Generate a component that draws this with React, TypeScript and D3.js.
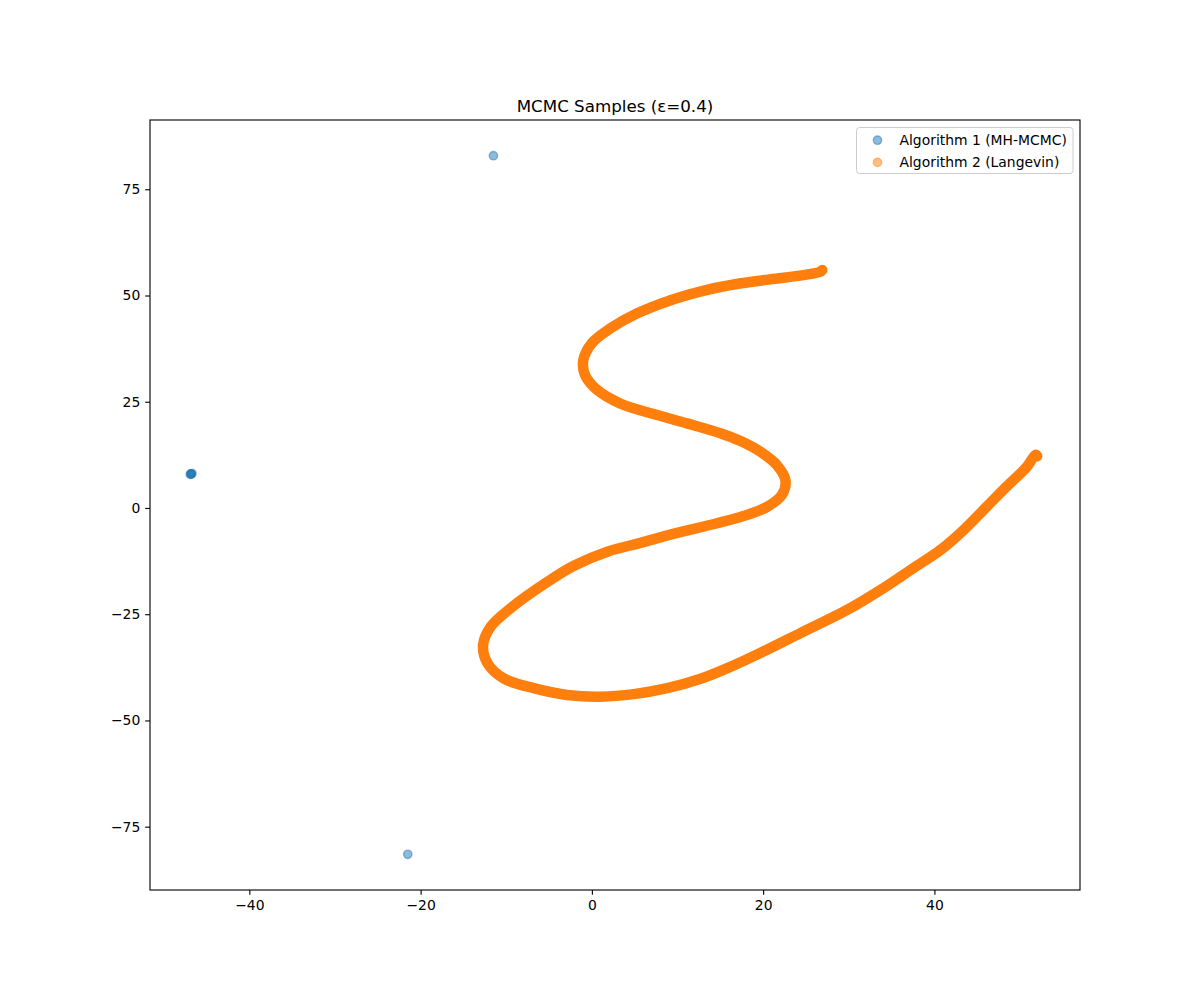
import { useRef, useEffect } from 'react';
import * as d3 from 'd3';

const title = 'MCMC Samples (ε=0.4)';
const seriesNames = ['Algorithm 1 (MH-MCMC)', 'Algorithm 2 (Langevin)'];
const seriesColors = ['#1f77b4', '#ff7f0e'];

const xTicks = [-40, -20, 0, 20, 40];
const yTicks = [-75, -50, -25, 0, 25, 50, 75];
const xDomain = [-51.6, 57.0];
const yDomain = [-89.9, 91.3];

// Algorithm 1: stuck cluster on the left plus two outliers
const mhX = [-46.8, -46.7, -46.9, -46.8, -11.5, -21.5];
const mhY = [8.0, 8.1, 7.9, 8.05, 82.9, -81.5];

// Algorithm 2: S-shaped trail
const lgX = [
  26.9, 26.7, 24.7, 20.8, 16.9, 13.0, 9.2, 5.3, 2.2, 0.0, -1.0, -0.8, 0.6, 3.3,
  7.2, 11.1, 15.0, 17.3, 19.7, 21.6, 22.6, 22.2, 20.4, 17.7, 14.6, 9.5, 5.7, 1.8,
  -2.1, -5.2, -9.5, -11.8, -12.7, -12.2, -10.3, -6.8, -2.9, 1.0, 4.9, 8.8, 12.7,
  16.5, 20.4, 24.3, 29.8, 33.7, 37.5, 40.7, 43.4, 46.1, 48.4, 50.8, 51.8, 52.0,
];
const lgY = [
  56.0, 55.6, 54.8, 53.8, 52.7, 51.1, 48.9, 45.8, 42.3, 38.8, 34.8, 31.3, 27.8,
  24.6, 22.1, 19.9, 17.6, 15.8, 13.2, 10.1, 6.6, 3.1, 0.2, -1.9, -3.6, -6.1, -8.2,
  -10.3, -13.6, -17.4, -23.6, -27.9, -32.2, -36.5, -40.1, -42.4, -44.0, -44.4,
  -43.8, -42.4, -40.2, -37.1, -33.4, -29.5, -24.0, -19.3, -14.2, -9.9, -5.2, 0.3,
  5.0, 9.7, 12.5, 12.2,
];

const W = 1200;
const H = 1000;
const margin = { top: 120, right: 120, bottom: 110, left: 150 };
const FONT = '"DejaVu Sans", sans-serif';

export default function App() {
  const svgRef = useRef<SVGSVGElement>(null);

  useEffect(() => {
    if (!svgRef.current) return;
    const svg = d3.select(svgRef.current);
    svg.selectAll('*').remove();

    const innerW = W - margin.left - margin.right;
    const innerH = H - margin.top - margin.bottom;

    const x = d3.scaleLinear().domain(xDomain).range([margin.left, margin.left + innerW]);
    const y = d3.scaleLinear().domain(yDomain).range([margin.top + innerH, margin.top]);

    svg.append('rect').attr('width', W).attr('height', H).attr('fill', '#fff');

    const plot = svg.append('g');

    // Algorithm 1 points
    const mh = mhX.map((v, i) => ({ x: v, y: mhY[i] }));
    plot.selectAll('.mh')
      .data(mh)
      .enter()
      .append('circle')
      .attr('class', 'mh')
      .attr('cx', (d) => x(d.x))
      .attr('cy', (d) => y(d.y))
      .attr('r', 4.17)
      .attr('fill', seriesColors[0])
      .attr('fill-opacity', 0.5)
      .attr('stroke', seriesColors[0])
      .attr('stroke-opacity', 0.5)
      .attr('stroke-width', 1.39);

    // Algorithm 2 trail: dense overlapping markers look like a solid band
    const lg = lgX.map((v, i) => ({ x: v, y: lgY[i] }));
    const line = d3.line<{ x: number; y: number }>()
      .x((d) => x(d.x))
      .y((d) => y(d.y))
      .curve(d3.curveCatmullRom.alpha(0.5));
    plot.append('path')
      .datum(lg)
      .attr('d', line)
      .attr('fill', 'none')
      .attr('stroke', seriesColors[1])
      .attr('stroke-width', 10.5)
      .attr('stroke-linecap', 'round')
      .attr('stroke-linejoin', 'round');
    plot.selectAll('.lg')
      .data(lg)
      .enter()
      .append('circle')
      .attr('class', 'lg')
      .attr('cx', (d) => x(d.x))
      .attr('cy', (d) => y(d.y))
      .attr('r', 4.17)
      .attr('fill', seriesColors[1])
      .attr('fill-opacity', 0.5)
      .attr('stroke', seriesColors[1])
      .attr('stroke-opacity', 0.5)
      .attr('stroke-width', 1.39);

    // Axes
    const xAxis = svg.append('g')
      .attr('transform', `translate(0,${margin.top + innerH})`)
      .call(d3.axisBottom(x).tickValues(xTicks).tickSize(4.86).tickPadding(4.86).tickFormat(d3.format('d')));
    const yAxis = svg.append('g')
      .attr('transform', `translate(${margin.left},0)`)
      .call(d3.axisLeft(y).tickValues(yTicks).tickSize(4.86).tickPadding(4.86).tickFormat(d3.format('d')));
    [xAxis, yAxis].forEach((ax) => {
      ax.select('.domain').remove();
      ax.selectAll('line').attr('stroke', '#000').attr('stroke-width', 1.11);
      ax.selectAll('text')
        .attr('fill', '#000')
        .attr('font-family', FONT)
        .attr('font-size', 13.9);
    });

    // Frame
    svg.append('rect')
      .attr('x', margin.left)
      .attr('y', margin.top)
      .attr('width', innerW)
      .attr('height', innerH)
      .attr('fill', 'none')
      .attr('stroke', '#000')
      .attr('stroke-width', 1.11);

    // Title
    svg.append('text')
      .attr('x', margin.left + innerW / 2)
      .attr('y', margin.top - 8.3)
      .attr('text-anchor', 'middle')
      .attr('font-family', FONT)
      .attr('font-size', 16.7)
      .attr('fill', '#000')
      .text(title);

    // Legend
    const lgBox = { x: 856.5, y: 127.5, w: 216.5, h: 46 };
    const legend = svg.append('g');
    legend.append('rect')
      .attr('x', lgBox.x)
      .attr('y', lgBox.y)
      .attr('width', lgBox.w)
      .attr('height', lgBox.h)
      .attr('rx', 3)
      .attr('fill', '#fff')
      .attr('fill-opacity', 0.8)
      .attr('stroke', '#cccccc')
      .attr('stroke-width', 1);
    seriesNames.forEach((name, i) => {
      const cy = 140.2 + i * 22.2;
      legend.append('circle')
        .attr('cx', 877.5)
        .attr('cy', cy)
        .attr('r', 4.17)
        .attr('fill', seriesColors[i])
        .attr('fill-opacity', 0.5)
        .attr('stroke', seriesColors[i])
        .attr('stroke-opacity', 0.5)
        .attr('stroke-width', 1.39);
      legend.append('text')
        .attr('x', 899.5)
        .attr('y', cy + 4.9)
        .attr('font-family', FONT)
        .attr('font-size', 13.9)
        .attr('fill', '#000')
        .text(name);
    });
  }, []);

  return (
    <svg
      ref={svgRef}
      width={W}
      height={H}
      style={{ position: 'absolute', left: 0, top: 0, display: 'block' }}
    />
  );
}
